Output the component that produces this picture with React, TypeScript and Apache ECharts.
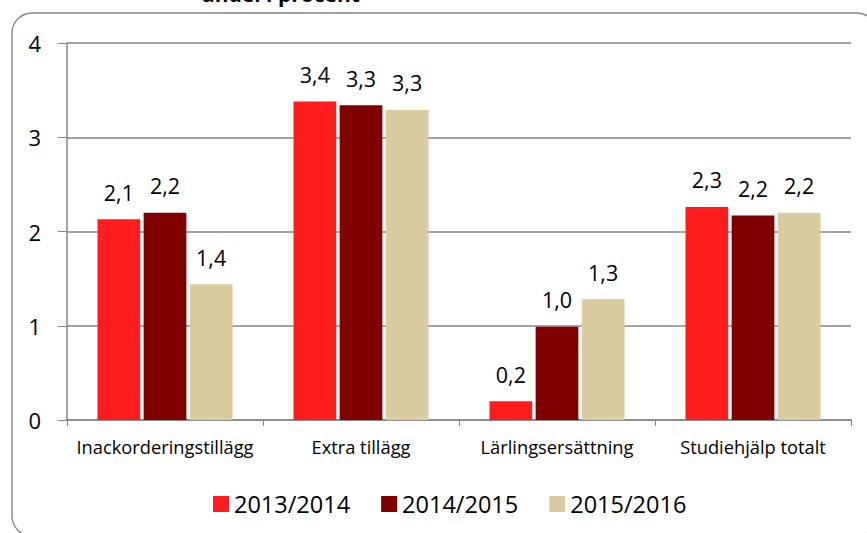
import React, { useEffect, useRef } from "react";
import * as echarts from "echarts";

const categories = ["Inackorderingstillägg", "Extra tillägg", "Lärlingsersättning", "Studiehjälp totalt"];
const seriesNames = ["2013/2014", "2014/2015", "2015/2016"];
const values2013 = [2.13, 3.38, 0.2, 2.26];
const values2014 = [2.2, 3.34, 0.99, 2.17];
const values2015 = [1.44, 3.29, 1.28, 2.2];
const colors = ["#ff1c1c", "#800000", "#d8cca0"];
const yTicks = [0, 1, 2, 3, 4];
const titleText = "andel i procent";

const FONT = "'Open Sans', sans-serif";

export default function App() {
  const ref = useRef<HTMLDivElement>(null);
  useEffect(() => {
    document.body.style.margin = "0";
    const chart = echarts.init(ref.current!, undefined, { renderer: "svg" });
    const data = [values2013, values2014, values2015];
    chart.setOption({
      animation: false,
      backgroundColor: "#ffffff",
      graphic: [
        {
          type: "rect",
          shape: { x: 12, y: 13, width: 865, height: 523, r: 20 },
          style: { fill: "none", stroke: "#808080", lineWidth: 1.3 },
          silent: true,
        },
        {
          type: "text",
          x: 202,
          y: -17,
          style: { text: titleText, fill: "#000", font: `bold 21px ${FONT}` },
        },
      ],
      grid: { left: 67, right: 16, top: 43, bottom: 113, containLabel: false },
      legend: {
        top: 487,
        left: 208,
        itemWidth: 16,
        itemHeight: 16,
        itemGap: 31,
        icon: "rect",
        textStyle: { fontFamily: FONT, fontSize: 23.5, color: "#000", padding: [0, 0, 0, 0] },
        data: seriesNames,
      },
      xAxis: {
        type: "category",
        data: categories,
        axisLine: { lineStyle: { color: "#868686", width: 1.5 } },
        axisTick: { show: true, length: 6, alignWithLabel: false, lineStyle: { color: "#868686" } },
        axisLabel: { fontFamily: FONT, fontSize: 18.3, color: "#000", margin: 17, interval: 0 },
      },
      yAxis: {
        type: "value",
        min: 0,
        max: 4,
        interval: 1,
        axisLine: { show: true, lineStyle: { color: "#868686", width: 1.5 } },
        axisTick: { show: true, length: 9, lineStyle: { color: "#868686" } },
        splitLine: { lineStyle: { color: "#868686", width: 1.5 } },
        axisLabel: {
          fontFamily: FONT,
          fontSize: 22,
          color: "#000",
          margin: 26,
          formatter: (v: number) => (yTicks.includes(v) ? String(v) : ""),
        },
      },
      series: seriesNames.map((name, i) => ({
        name,
        type: "bar",
        data: data[i],
        barWidth: "21.8%",
        barGap: "8%",
        itemStyle: { color: colors[i] },
        label: {
          show: true,
          position: "top",
          distance: 16,
          fontFamily: FONT,
          fontSize: 21.5,
          color: "#000",
          formatter: (p: any) => Number(p.value).toFixed(1).replace(".", ","),
        },
      })),
    });
    return () => chart.dispose();
  }, []);
  return <div ref={ref} style={{ position: "fixed", left: 0, top: 0, width: 867, height: 533 }} />;
}
